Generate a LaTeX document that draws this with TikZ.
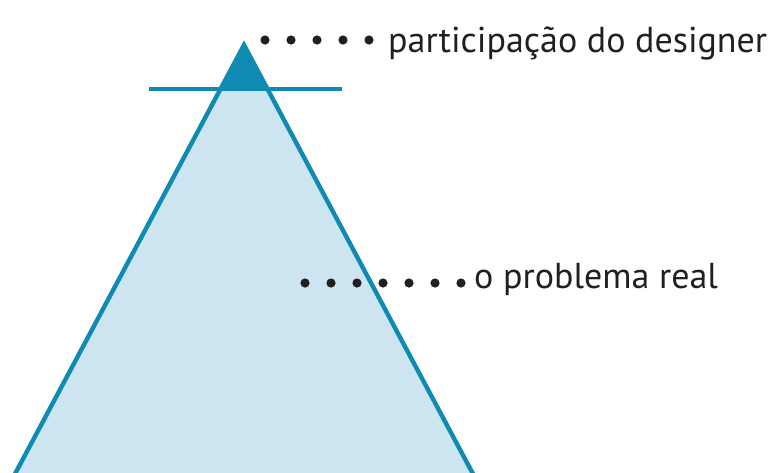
\documentclass[tikz,border=0pt]{standalone}
\usepackage{fontspec}
\setmainfont{PT Sans}
\usetikzlibrary{positioning}
\definecolor{PyrEdge}{HTML}{0E8AB3}
\definecolor{PyrFill}{HTML}{CCE5F0}
\definecolor{DotInk}{HTML}{231F20}

\begin{document}
\begin{tikzpicture}[x=1pt,y=-1pt,
  edge/.style={draw=PyrEdge,line width=4.4pt},
  dotmark/.style={fill=DotInk},
  lbl/.style={text=DotInk,font=\fontsize{36}{42}\selectfont,inner sep=0pt,anchor=base west},
]
\useasboundingbox (0,0) rectangle (774,472);
\clip (0,0) rectangle (774,472);
\coordinate (apex) at (244,45);
\coordinate (bl)   at (6.4,490);
\coordinate (br)   at (481.6,490);
\coordinate (tl)   at (220.5,89);
\coordinate (tr)   at (267.5,89);
\coordinate (hl)   at (149,89);
\coordinate (hr)   at (342,89);

% pyramid body
\fill[PyrFill] (apex) -- (bl) -- (br) -- cycle;
\draw[edge] (bl) -- (apex) -- (br);
\fill[PyrEdge] (apex) -- (tl) -- (tr) -- cycle;
\draw[edge] (hl) -- (hr);

% labels and dotted leaders
\node[lbl] (designer) at (388,52)  {participação do designer};
\node[lbl] (problema) at (474,288) {o problema real};
\foreach \x in {265,291,317,343,369}
  \fill[dotmark] (\x,40) circle (4.6);
\foreach \x in {305,331,357,383,409,435,461}
  \fill[dotmark] (\x,283) circle (4.6);
\end{tikzpicture}
\end{document}
